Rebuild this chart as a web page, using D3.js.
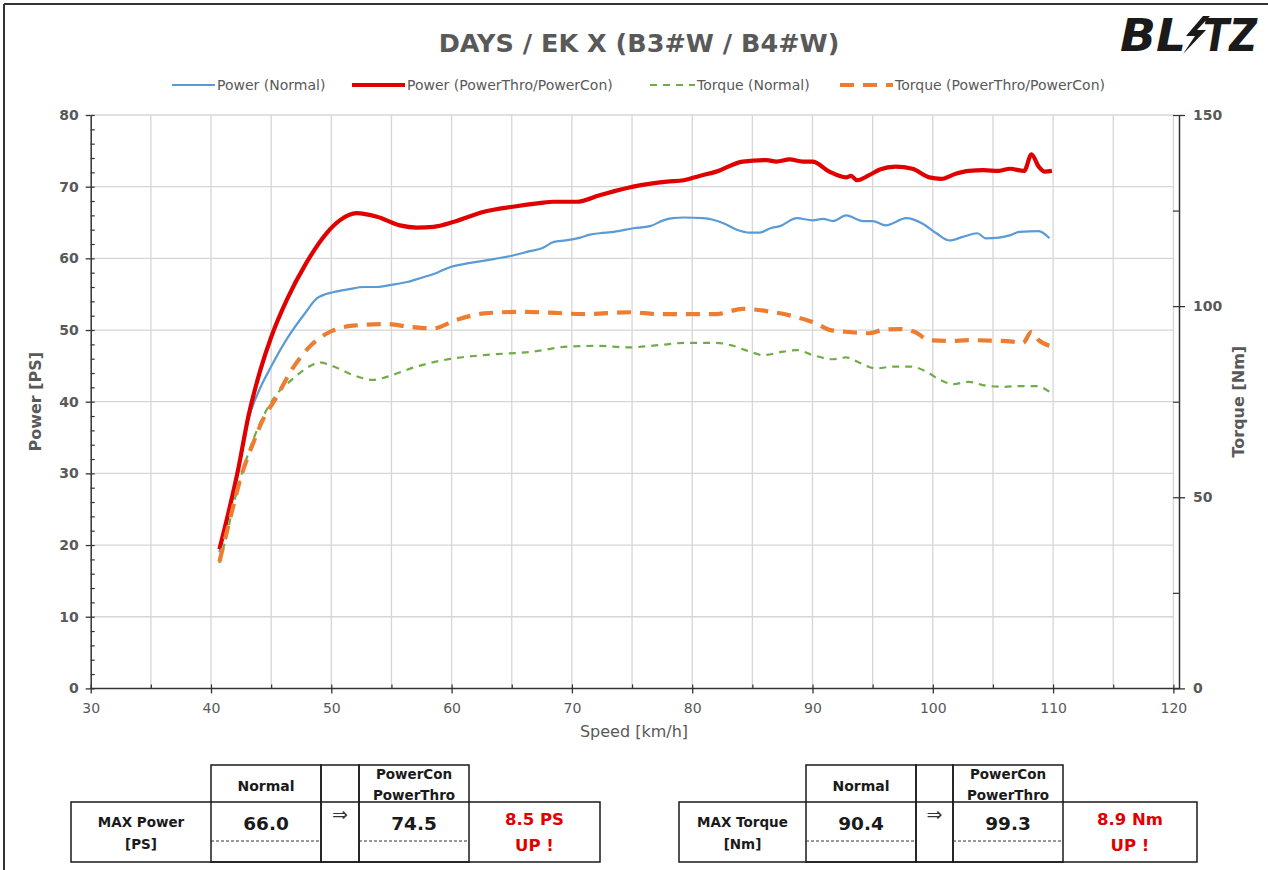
<!DOCTYPE html>
<html><head><meta charset="utf-8">
<script src="https://cdn.jsdelivr.net/npm/d3@7"></script>
<style>
html,body{margin:0;padding:0;background:#fff;}
svg{display:block;}
</style></head>
<body>
<svg id="c" width="1268" height="870"></svg>
<script>
// ---------- DATA ----------
const title = "DAYS / EK X (B3#W / B4#W)";
const xTicks = [30,40,50,60,70,80,90,100,110,120];
const yLeftTicks = [0,10,20,30,40,50,60,70,80];
const yRightTicks = [0,50,100,150];

const powerNormalSpeed = [40.7,42.3,43.1,43.9,45.0,46.4,47.8,48.8,50.2,51.5,52.7,53.8,55.0,56.3,57.5,58.8,59.9,61.0,62.1,63.5,65.1,66.5,67.5,68.5,69.5,70.7,71.5,72.3,73.5,75.1,76.5,77.6,78.4,79.3,80.9,82.6,83.7,84.8,85.6,86.5,87.3,88.7,90.0,90.9,91.7,92.8,94.2,95.0,96.1,97.8,99.2,100.3,101.4,102.5,103.7,104.4,105.5,106.4,107.2,108.8,109.7];
const powerNormal      = [19.0,30.5,37.5,41.2,44.9,49.0,52.3,54.4,55.3,55.7,56.0,56.0,56.3,56.7,57.3,58.0,58.8,59.2,59.5,59.9,60.4,61.0,61.4,62.3,62.5,62.9,63.3,63.5,63.7,64.2,64.5,65.3,65.6,65.7,65.6,64.9,64.0,63.6,63.6,64.2,64.5,65.6,65.3,65.5,65.2,66.0,65.2,65.2,64.6,65.6,64.8,63.5,62.5,63.0,63.5,62.8,62.9,63.2,63.7,63.8,62.8];

const powerTunedSpeed = [40.7,42.3,43.1,44.1,45.0,46.3,47.9,49.6,50.7,52.1,53.8,55.7,57.1,58.5,60.2,62.7,65.1,67.3,68.5,70.4,72.3,75.1,77.9,79.3,80.6,82.0,84.2,86.2,87.0,88.1,89.2,90.0,91.4,92.8,93.2,93.7,94.7,95.6,96.9,98.3,99.7,100.7,101.9,103.0,104.2,105.5,106.4,107.6,108.2,108.8,109.3,109.9];
const powerTuned      = [19.4,30.9,37.9,44.4,49.0,54.2,59.3,63.5,65.3,66.3,65.8,64.6,64.3,64.4,65.1,66.5,67.2,67.7,67.9,67.9,68.8,70.0,70.7,70.9,71.5,72.1,73.5,73.7,73.5,73.8,73.5,73.5,72.1,71.3,71.5,70.9,71.6,72.4,72.8,72.5,71.3,71.1,71.8,72.2,72.3,72.2,72.5,72.2,74.5,72.8,72.1,72.2];

const torqueNormalSpeed = [40.7,41.2,42.1,43.1,44.2,45.3,46.7,48.4,49.0,50.2,51.8,53.5,54.6,57.1,59.9,62.7,66.8,69.6,72.3,74.5,77.9,79.3,82.0,83.2,84.8,85.9,87.6,88.7,90.0,91.7,92.8,93.9,95.3,96.7,98.1,99.5,100.6,101.7,103.0,104.4,105.9,107.2,108.6,109.7];
const torqueNormal      = [32.8,38.8,51.0,61.5,70.2,76.3,80.7,84.6,85.3,84.2,82.0,80.7,81.5,84.2,86.2,87.2,88.1,89.4,89.6,89.2,90.0,90.4,90.4,89.8,88.1,87.2,88.1,88.5,87.2,86.1,86.6,85.2,83.7,84.2,84.2,82.8,80.7,79.6,80.2,79.2,78.9,79.1,79.1,77.6];

const torqueTunedSpeed = [40.7,41.7,42.5,43.5,44.5,45.3,46.7,48.2,49.9,51.8,54.6,56.5,58.5,60.4,62.7,65.7,68.2,71.0,74.8,77.3,80.1,82.0,84.2,86.2,88.7,90.3,91.4,93.1,94.7,95.9,97.3,98.6,99.7,101.4,103.0,104.7,106.6,107.5,108.2,108.8,109.7];
const torqueTuned      = [33.1,45.8,55.4,64.1,71.5,75.4,83.3,89.4,93.3,94.9,95.3,94.6,94.2,96.4,98.1,98.5,98.3,97.9,98.4,97.9,97.9,97.9,99.3,98.7,97.1,95.5,93.8,93.2,92.9,93.8,94.0,93.1,91.1,90.9,91.1,91.0,90.7,90.4,93.3,91.1,89.6];

const legendLabels = ["Power (Normal)","Power (PowerThro/PowerCon)","Torque (Normal)","Torque (PowerThro/PowerCon)"];

const tableHeaders = ["Normal","PowerCon","PowerThro"];
const powerTable  = {label:["MAX Power","[PS]"], normal:"66.0", tuned:"74.5", gain:["8.5 PS","UP !"]};
const torqueTable = {label:["MAX Torque","[Nm]"], normal:"90.4", tuned:"99.3", gain:["8.9 Nm","UP !"]};

// ---------- DRAW ----------
const svg = d3.select("#c");
const gray = "#595959";
const x = d3.scaleLinear().domain([30,120]).range([90.7,1173.4]);
const yL = d3.scaleLinear().domain([0,80]).range([688.4,115]);
const yR = d3.scaleLinear().domain([0,150]).range([688.4,115]);

// frame
svg.append("line").attr("x1",4).attr("x2",4).attr("y1",4).attr("y2",870).attr("stroke","#333").attr("stroke-width",2);
svg.append("line").attr("x1",4).attr("x2",1268).attr("y1",4).attr("y2",4).attr("stroke","#333").attr("stroke-width",2);

// title
svg.append("text").attr("x",639).attr("y",52).attr("text-anchor","middle")
  .attr("font-family","DejaVu Sans").attr("font-weight","bold").attr("font-size",25.5)
  .attr("fill",gray).text(title);

// logo
const logo = svg.append("g").attr("font-family","DejaVu Sans").attr("font-weight","bold")
  .attr("font-style","italic").attr("font-size",44).attr("fill","#1a1a1a");
logo.append("text").attr("x",1120).attr("y",51).attr("textLength",66).attr("lengthAdjust","spacingAndGlyphs").text("BL");
logo.append("path").attr("d","M1203,16 L1186,36 L1195,36 L1183,54 L1206,30 L1197,30 L1210,16 Z").attr("fill","#1a1a1a");
logo.append("text").attr("x",1203).attr("y",51).attr("textLength",54).attr("lengthAdjust","spacingAndGlyphs").text("TZ");

// grid
const grid = svg.append("g").attr("stroke","#d6d6d6").attr("stroke-width",1.3);
grid.selectAll("line.v").data(d3.range(35,121,5)).join("line")
  .attr("x1",d=>x(d)).attr("x2",d=>x(d)).attr("y1",yL(0)).attr("y2",yL(80));
grid.selectAll("line.h").data(yLeftTicks.filter(d=>d>0)).join("line")
  .attr("x1",x(30)).attr("x2",x(120)).attr("y1",d=>yL(d)).attr("y2",d=>yL(d));

// axes
const axisColor = "#333";
function styleAxis(g){ g.selectAll("path,line").attr("stroke",axisColor).attr("stroke-width",1.3); g.select(".domain").attr("stroke-width",1.5); }

// left axis
const gl = svg.append("g").attr("transform",`translate(${x(30)},0)`);
gl.call(d3.axisLeft(yL).tickValues(yLeftTicks).tickSizeInner(5).tickSizeOuter(0).tickPadding(7).tickFormat(d3.format("d")));
styleAxis(gl);
gl.selectAll("text").attr("font-family","DejaVu Sans").attr("font-weight","bold").attr("font-size",14).attr("fill",gray);
svg.append("g").attr("transform",`translate(${x(30)},0)`)
  .call(d3.axisRight(yL).tickValues(d3.range(0,81,2)).tickSize(4).tickFormat("")).call(g=>{g.select(".domain").remove(); g.selectAll("line").attr("stroke",axisColor).attr("stroke-width",1.2);});

// bottom axis
const gb = svg.append("g").attr("transform",`translate(0,${yL(0)})`);
gb.call(d3.axisBottom(x).tickValues(xTicks).tickSizeInner(5).tickSizeOuter(0).tickPadding(10).tickFormat(d3.format("d")));
styleAxis(gb);
gb.select(".domain").attr("d",`M${x(30)},0H1179`);
gb.selectAll("text").attr("font-family","DejaVu Sans").attr("font-size",14).attr("fill",gray);
svg.append("g").attr("transform",`translate(0,${yL(0)})`)
  .call(d3.axisTop(x).tickValues(d3.range(30,121,5)).tickSize(4).tickFormat("")).call(g=>{g.select(".domain").remove(); g.selectAll("line").attr("stroke",axisColor).attr("stroke-width",1.2);});

// right axis
const rx = 1179;
const gr = svg.append("g").attr("transform",`translate(${rx},0)`);
gr.call(d3.axisRight(yR).tickValues(yRightTicks).tickSizeInner(6).tickSizeOuter(0).tickPadding(8).tickFormat(d3.format("d")));
styleAxis(gr);
gr.selectAll("text").attr("font-family","DejaVu Sans").attr("font-weight","bold").attr("font-size",14).attr("fill",gray);
svg.append("g").attr("transform",`translate(${rx},0)`)
  .call(d3.axisLeft(yR).tickValues(d3.range(0,151,25)).tickSize(6).tickFormat("")).call(g=>{g.select(".domain").remove(); g.selectAll("line").attr("stroke",axisColor).attr("stroke-width",1.2);});

// axis titles
svg.append("text").attr("transform",`translate(41,${yL(40)}) rotate(-90)`).attr("text-anchor","middle")
  .attr("font-family","DejaVu Sans").attr("font-weight","bold").attr("font-size",16).attr("fill",gray).text("Power [PS]");
svg.append("text").attr("transform",`translate(1244,${yL(40)}) rotate(-90)`).attr("text-anchor","middle")
  .attr("font-family","DejaVu Sans").attr("font-weight","bold").attr("font-size",16).attr("fill",gray).text("Torque [Nm]");
svg.append("text").attr("x",634).attr("y",737).attr("text-anchor","middle")
  .attr("font-family","DejaVu Sans").attr("font-size",16).attr("fill",gray).text("Speed [km/h]");

// series
const series = [
  {sp:powerNormalSpeed, v:powerNormal, y:yL, color:"#5B9BD5", w:2.2, dash:null},
  {sp:powerTunedSpeed,  v:powerTuned,  y:yL, color:"#E00000", w:4.2, dash:null},
  {sp:torqueNormalSpeed,v:torqueNormal,y:yR, color:"#70AD47", w:2.2, dash:"7,6"},
  {sp:torqueTunedSpeed, v:torqueTuned, y:yR, color:"#ED7D31", w:4.2, dash:"14,9"}
];
series.forEach(s=>{
  const pts = s.sp.map((d,i)=>[d,s.v[i]]);
  const line = d3.line().x(d=>x(d[0])).y(d=>s.y(d[1])).curve(d3.curveMonotoneX);
  svg.append("path").attr("d",line(pts)).attr("fill","none").attr("stroke",s.color)
    .attr("stroke-width",s.w).attr("stroke-dasharray",s.dash).attr("stroke-linejoin","round");
});

// legend
const legX = [172,352,650,840];
const legLen = [43,53,45,53];
const lg = svg.append("g").attr("font-family","DejaVu Sans").attr("font-size",14).attr("fill",gray);
series.forEach((s,i)=>{
  lg.append("line").attr("x1",legX[i]).attr("x2",legX[i]+legLen[i]).attr("y1",85).attr("y2",85)
    .attr("stroke",s.color).attr("stroke-width",s.w).attr("stroke-dasharray",s.dash);
  lg.append("text").attr("x",legX[i]+legLen[i]+2).attr("y",90).text(legendLabels[i]);
});

// tables
function drawTable(t, cols){
  const g = svg.append("g").attr("font-family","DejaVu Sans");
  const top=765, mid=802, bot=862;
  const st = {stroke:"#1a1a1a","stroke-width":1.5,fill:"none"};
  const rect=(x0,y0,x1,y1)=>{const r=g.append("rect").attr("x",x0).attr("y",y0).attr("width",x1-x0).attr("height",y1-y0); Object.entries(st).forEach(([k,v])=>r.attr(k,v));};
  rect(cols[0],mid,cols[5],bot);
  rect(cols[1],top,cols[2],bot);
  rect(cols[2],top,cols[3],bot);
  rect(cols[3],top,cols[4],bot);
  [[cols[1],cols[2]],[cols[3],cols[4]]].forEach(([a,b])=>{
    g.append("line").attr("x1",a).attr("x2",b).attr("y1",841).attr("y2",841).attr("stroke","#333").attr("stroke-width",1).attr("stroke-dasharray","3,2");
  });
  const txt=(xx,yy,s,size,col,w)=>g.append("text").attr("x",xx).attr("y",yy).attr("text-anchor","middle")
     .attr("font-size",size).attr("font-weight",w||"bold").attr("fill",col||"#1a1a1a").text(s);
  const cx=(a,b)=>(a+b)/2;
  txt(cx(cols[1],cols[2]),791,tableHeaders[0],14);
  txt(cx(cols[3],cols[4]),779,tableHeaders[1],13.5);
  txt(cx(cols[3],cols[4]),800,tableHeaders[2],13.5);
  txt(cx(cols[0],cols[1]),827,t.label[0],13.5);
  txt(cx(cols[0],cols[1]),849,t.label[1],13.5);
  txt(cx(cols[1],cols[2]),830,t.normal,18.5);
  txt(cx(cols[2],cols[3]),821,"⇒",19,"#333","normal");
  txt(cx(cols[3],cols[4]),830,t.tuned,18.5);
  txt(cx(cols[4],cols[5]),825,t.gain[0],16.5,"#E00000");
  txt(cx(cols[4],cols[5]),851,t.gain[1],16.5,"#E00000");
}
drawTable(powerTable,[71,211,321,359,469,600]);
drawTable(torqueTable,[679,806,916,953,1063,1197]);
</script>
</body></html>
